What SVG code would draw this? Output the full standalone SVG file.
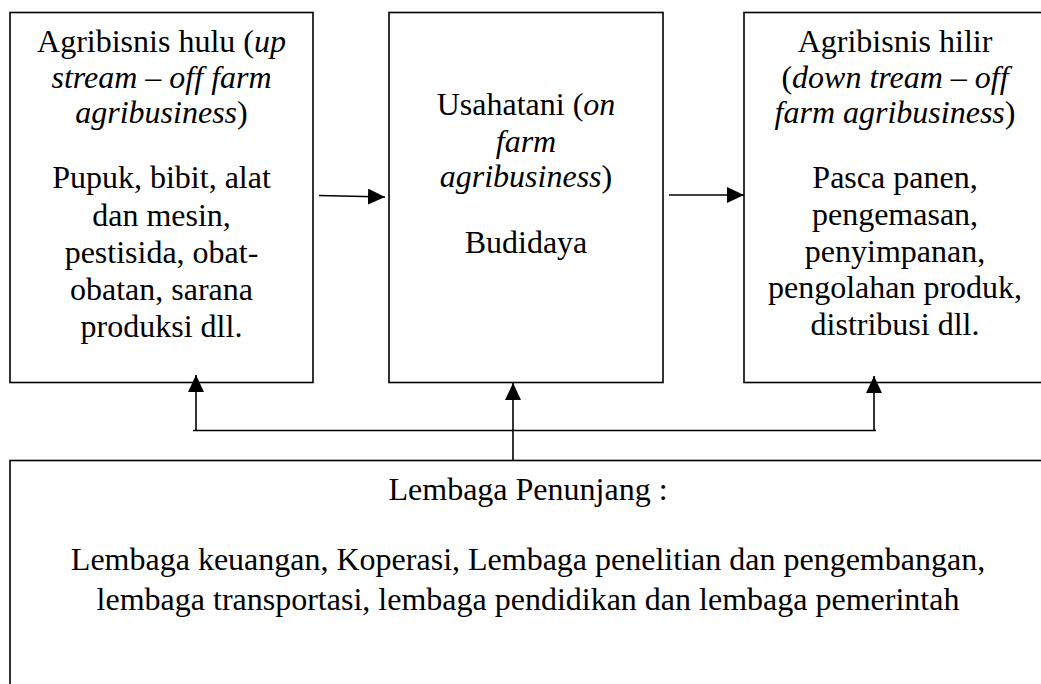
<svg xmlns="http://www.w3.org/2000/svg" width="1041" height="684" viewBox="0 0 1041 684">
<style>
.box{fill:#fff;stroke:#000;stroke-width:1.6}
.t{font-family:"Liberation Serif","Times New Roman",serif;font-size:32px;fill:#000;text-anchor:middle}
.i{font-style:italic}
.c{stroke:#000;stroke-width:1.6;fill:none}
</style>
<defs>
<marker id="ah" markerUnits="userSpaceOnUse" markerWidth="17" markerHeight="16" refX="17" refY="8" orient="auto">
<path d="M0,0 L17,8 L0,16 Z" fill="#000"/>
</marker>
</defs>
<rect width="1041" height="684" fill="#fff"/>
<g id="hulu">
<rect class="box" x="10" y="12.5" width="303" height="370"/>
<text class="t" x="161.5" y="52">Agribisnis hulu (<tspan class="i">up</tspan></text>
<text class="t i" x="161.5" y="88">stream – off farm</text>
<text class="t" x="161.5" y="123"><tspan class="i">agribusiness</tspan>)</text>
<text class="t" x="161.5" y="188">Pupuk, bibit, alat</text>
<text class="t" x="161.5" y="226">dan mesin,</text>
<text class="t" x="161.5" y="263">pestisida, obat-</text>
<text class="t" x="161.5" y="300">obatan, sarana</text>
<text class="t" x="161.5" y="337">produksi dll.</text>
</g>
<g id="usahatani">
<rect class="box" x="389" y="12.5" width="274" height="370"/>
<text class="t" x="526" y="115">Usahatani (<tspan class="i">on</tspan></text>
<text class="t i" x="526" y="152">farm</text>
<text class="t" x="526" y="187"><tspan class="i">agribusiness</tspan>)</text>
<text class="t" x="526" y="253">Budidaya</text>
</g>
<g id="hilir">
<rect class="box" x="744" y="12.5" width="320" height="370"/>
<text class="t" x="895" y="52">Agribisnis hilir</text>
<text class="t" x="895" y="88">(<tspan class="i">down tream – off</tspan></text>
<text class="t" x="895" y="123"><tspan class="i">farm agribusiness</tspan>)</text>
<text class="t" x="895" y="188">Pasca panen,</text>
<text class="t" x="895" y="225">pengemasan,</text>
<text class="t" x="895" y="262">penyimpanan,</text>
<text class="t" x="895" y="298">pengolahan produk,</text>
<text class="t" x="895" y="335">distribusi dll.</text>
</g>
<g id="penunjang">
<rect class="box" x="10" y="460.5" width="1060" height="260"/>
<text class="t" x="528" y="500">Lembaga Penunjang :</text>
<text class="t" x="528" y="570">Lembaga keuangan, Koperasi, Lembaga penelitian dan pengembangan,</text>
<text class="t" x="528" y="610">lembaga transportasi, lembaga pendidikan dan lembaga pemerintah</text>
</g>
<g id="connectors">
<line class="c" x1="319" y1="195.5" x2="385" y2="197" marker-end="url(#ah)"/>
<line class="c" x1="669" y1="195" x2="744" y2="195" marker-end="url(#ah)"/>
<line class="c" x1="193" y1="430.5" x2="876" y2="430.5"/>
<line class="c" x1="196" y1="430.5" x2="196" y2="375" marker-end="url(#ah)"/>
<line class="c" x1="513" y1="460.5" x2="513" y2="383" marker-end="url(#ah)"/>
<line class="c" x1="874" y1="430.5" x2="874" y2="376" marker-end="url(#ah)"/>
</g>
</svg>
